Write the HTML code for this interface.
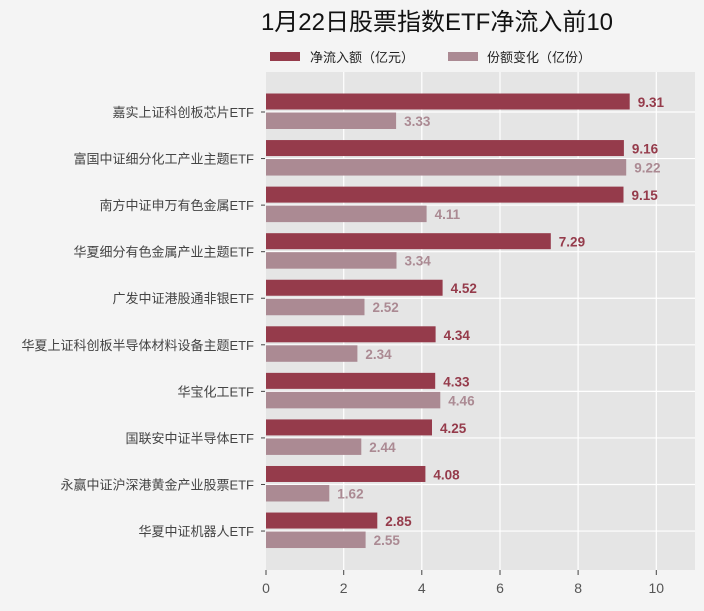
<!DOCTYPE html>
<html><head><meta charset="utf-8"><style>
body{margin:0;background:#f4f4f4;}
text{font-family:"Liberation Sans","Noto Sans CJK SC",sans-serif;}
.c{font-size:13px;fill:#444;text-anchor:end;}
.a{fill:#953b4b;}.b{fill:#ab8a93;}
.va{font-size:13.5px;font-weight:bold;fill:#953b4b;}
.vb{font-size:13.5px;font-weight:bold;fill:#ab8a93;}
</style></head><body>
<svg width="704" height="606" xmlns="http://www.w3.org/2000/svg">
<rect width="704" height="606" fill="#f4f4f4"/>
<text x="437" y="30" font-size="24" text-anchor="middle" fill="#111">1月22日股票指数ETF净流入前10</text>
<rect x="270" y="52" width="30" height="9" fill="#953b4b"/>
<text x="310" y="62" font-size="13" fill="#222">净流入额（亿元）</text>
<rect x="448" y="52" width="30" height="9" fill="#ab8a93"/>
<text x="487" y="62" font-size="13" fill="#222">份额变化（亿份）</text>
<rect x="266" y="72" width="429" height="498" fill="#e5e5e5"/>
<g stroke="#fff" stroke-width="1.2">
<line x1="343.7" y1="72" x2="343.7" y2="570"/><line x1="421.8" y1="72" x2="421.8" y2="570"/>
<line x1="500" y1="72" x2="500" y2="570"/><line x1="578.1" y1="72" x2="578.1" y2="570"/>
<line x1="656.3" y1="72" x2="656.3" y2="570"/>
<line x1="266" y1="112" x2="695" y2="112"/><line x1="266" y1="158.56" x2="695" y2="158.56"/>
<line x1="266" y1="205.12" x2="695" y2="205.12"/><line x1="266" y1="251.68" x2="695" y2="251.68"/>
<line x1="266" y1="298.24" x2="695" y2="298.24"/><line x1="266" y1="344.8" x2="695" y2="344.8"/>
<line x1="266" y1="391.36" x2="695" y2="391.36"/><line x1="266" y1="437.92" x2="695" y2="437.92"/>
<line x1="266" y1="484.48" x2="695" y2="484.48"/><line x1="266" y1="531.04" x2="695" y2="531.04"/>
</g>

<g transform="translate(0,112)"><line x1="261" y1="0" x2="265" y2="0" stroke="#444"/><text class="c" x="254" y="5">嘉实上证科创板芯片ETF</text>
<rect class="a" x="266" y="-18.5" width="363.7" height="16"/><rect class="b" x="266" y="0.5" width="130.1" height="16.5"/>
<text class="va" x="637.7" y="-5">9.31</text><text class="vb" x="404.1" y="14">3.33</text></g>

<g transform="translate(0,158.56)"><line x1="261" y1="0" x2="265" y2="0" stroke="#444"/><text class="c" x="254" y="5">富国中证细分化工产业主题ETF</text>
<rect class="a" x="266" y="-18.5" width="357.9" height="16"/><rect class="b" x="266" y="0.5" width="360.2" height="16.5"/>
<text class="va" x="631.9" y="-5">9.16</text><text class="vb" x="634.2" y="14">9.22</text></g>

<g transform="translate(0,205.12)"><line x1="261" y1="0" x2="265" y2="0" stroke="#444"/><text class="c" x="254" y="5">南方中证申万有色金属ETF</text>
<rect class="a" x="266" y="-18.5" width="357.5" height="16"/><rect class="b" x="266" y="0.5" width="160.6" height="16.5"/>
<text class="va" x="631.5" y="-5">9.15</text><text class="vb" x="434.6" y="14">4.11</text></g>

<g transform="translate(0,251.68)"><line x1="261" y1="0" x2="265" y2="0" stroke="#444"/><text class="c" x="254" y="5">华夏细分有色金属产业主题ETF</text>
<rect class="a" x="266" y="-18.5" width="284.8" height="16"/><rect class="b" x="266" y="0.5" width="130.5" height="16.5"/>
<text class="va" x="558.8" y="-5">7.29</text><text class="vb" x="404.5" y="14">3.34</text></g>

<g transform="translate(0,298.24)"><line x1="261" y1="0" x2="265" y2="0" stroke="#444"/><text class="c" x="254" y="5">广发中证港股通非银ETF</text>
<rect class="a" x="266" y="-18.5" width="176.6" height="16"/><rect class="b" x="266" y="0.5" width="98.5" height="16.5"/>
<text class="va" x="450.6" y="-5">4.52</text><text class="vb" x="372.5" y="14">2.52</text></g>

<g transform="translate(0,344.8)"><line x1="261" y1="0" x2="265" y2="0" stroke="#444"/><text class="c" x="254" y="5">华夏上证科创板半导体材料设备主题ETF</text>
<rect class="a" x="266" y="-18.5" width="169.6" height="16"/><rect class="b" x="266" y="0.5" width="91.4" height="16.5"/>
<text class="va" x="443.6" y="-5">4.34</text><text class="vb" x="365.4" y="14">2.34</text></g>

<g transform="translate(0,391.36)"><line x1="261" y1="0" x2="265" y2="0" stroke="#444"/><text class="c" x="254" y="5">华宝化工ETF</text>
<rect class="a" x="266" y="-18.5" width="169.2" height="16"/><rect class="b" x="266" y="0.5" width="174.3" height="16.5"/>
<text class="va" x="443.2" y="-5">4.33</text><text class="vb" x="448.3" y="14">4.46</text></g>

<g transform="translate(0,437.92)"><line x1="261" y1="0" x2="265" y2="0" stroke="#444"/><text class="c" x="254" y="5">国联安中证半导体ETF</text>
<rect class="a" x="266" y="-18.5" width="166.0" height="16"/><rect class="b" x="266" y="0.5" width="95.3" height="16.5"/>
<text class="va" x="440" y="-5">4.25</text><text class="vb" x="369.3" y="14">2.44</text></g>

<g transform="translate(0,484.48)"><line x1="261" y1="0" x2="265" y2="0" stroke="#444"/><text class="c" x="254" y="5">永赢中证沪深港黄金产业股票ETF</text>
<rect class="a" x="266" y="-18.5" width="159.4" height="16"/><rect class="b" x="266" y="0.5" width="63.3" height="16.5"/>
<text class="va" x="433.4" y="-5">4.08</text><text class="vb" x="337.3" y="14">1.62</text></g>

<g transform="translate(0,531.04)"><line x1="261" y1="0" x2="265" y2="0" stroke="#444"/><text class="c" x="254" y="5">华夏中证机器人ETF</text>
<rect class="a" x="266" y="-18.5" width="111.3" height="16"/><rect class="b" x="266" y="0.5" width="99.6" height="16.5"/>
<text class="va" x="385.3" y="-5">2.85</text><text class="vb" x="373.6" y="14">2.55</text></g>

<g stroke="#444" stroke-width="1">
<line x1="266" y1="570" x2="266" y2="575"/><line x1="343.7" y1="570" x2="343.7" y2="575"/><line x1="421.8" y1="570" x2="421.8" y2="575"/><line x1="500" y1="570" x2="500" y2="575"/><line x1="578.1" y1="570" x2="578.1" y2="575"/><line x1="656.3" y1="570" x2="656.3" y2="575"/>
</g>
<g font-size="14" fill="#555" text-anchor="middle">
<text x="266" y="593">0</text><text x="343.7" y="593">2</text><text x="421.8" y="593">4</text><text x="500" y="593">6</text><text x="578.1" y="593">8</text><text x="656.3" y="593">10</text>
</g>
</svg>
</body></html>
